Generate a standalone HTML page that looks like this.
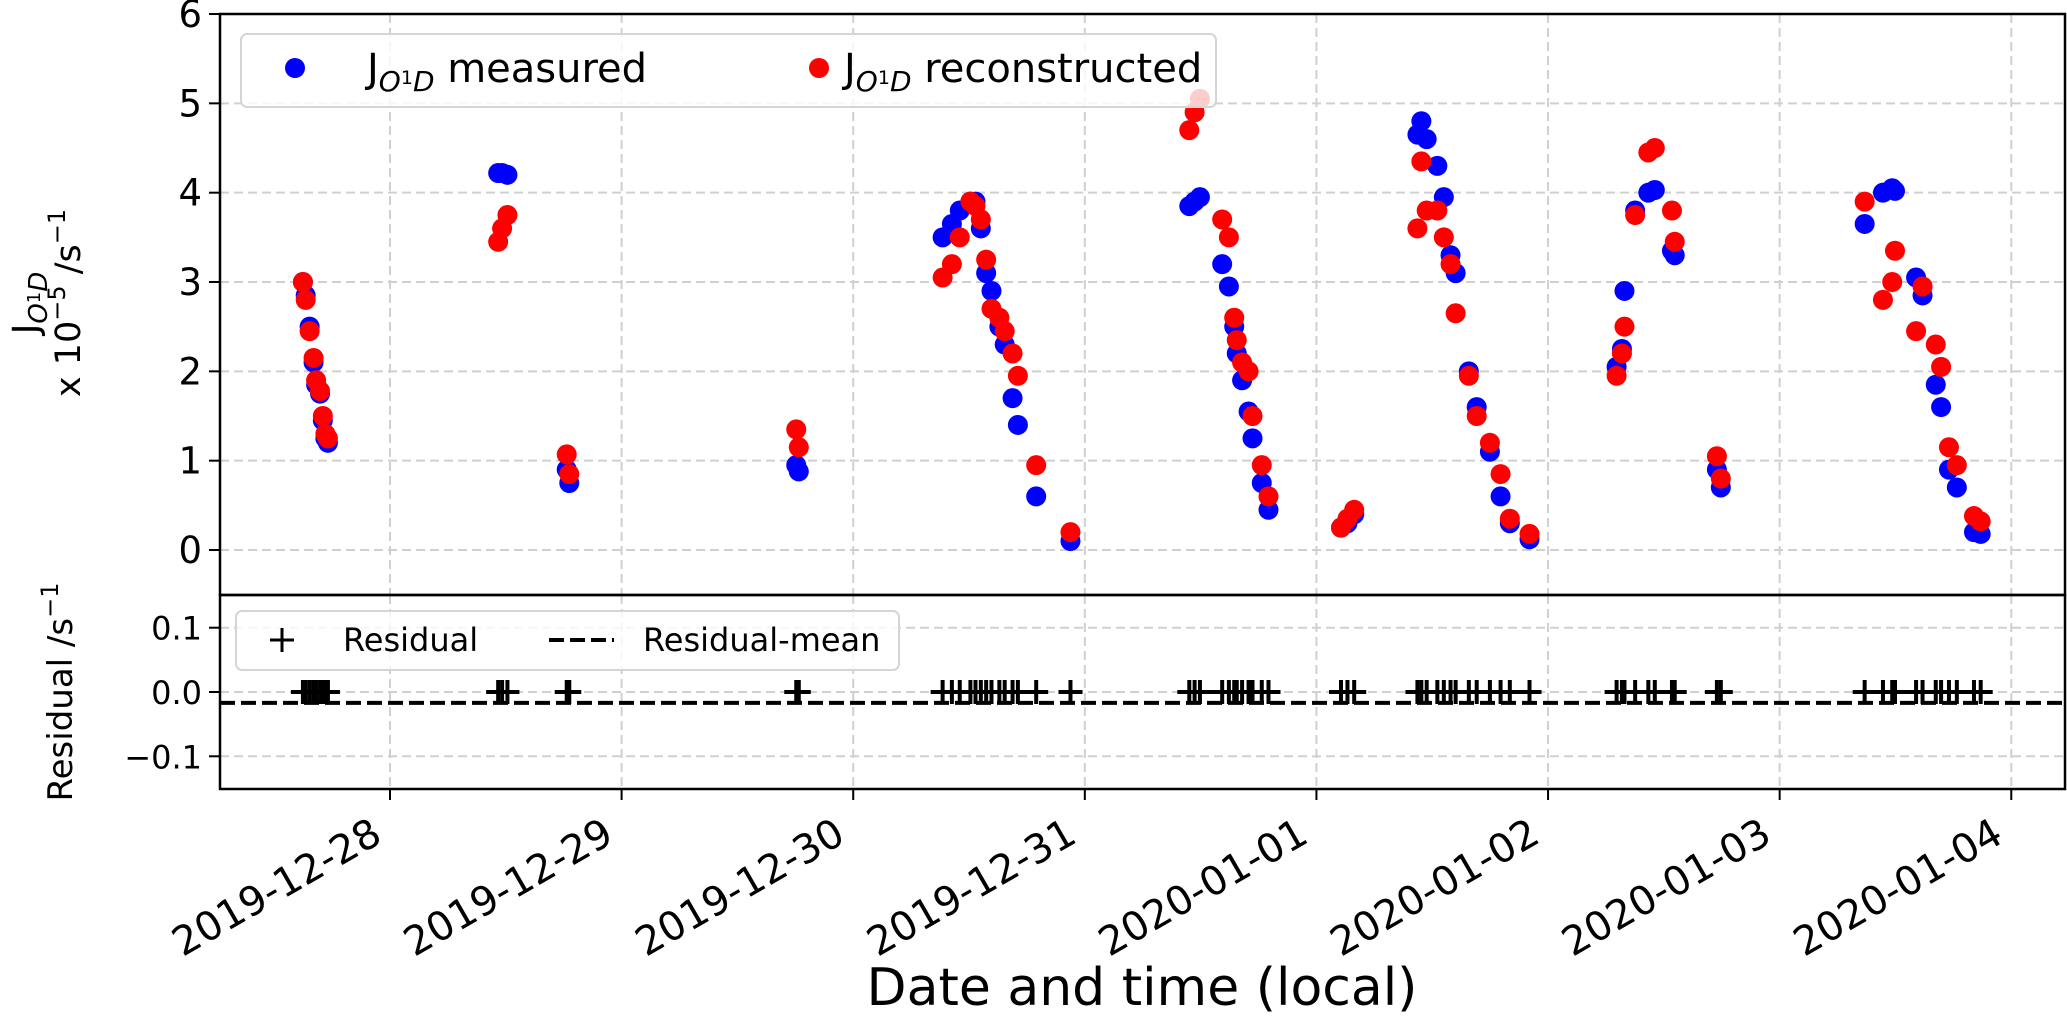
<!DOCTYPE html>
<html><head><meta charset="utf-8"><style>
html,body{margin:0;padding:0;background:#fff;}
svg{display:block;font-family:"DejaVu Sans","Liberation Sans",sans-serif;}
</style></head><body>
<svg id="chart" width="2067" height="1022" viewBox="0 0 2067 1022" xmlns="http://www.w3.org/2000/svg">
<g id="grid"></g>
<g id="marks"></g>
<g id="axes"></g>
<g>
  <rect x="241" y="34" width="975" height="73" rx="6" fill="#fff" fill-opacity="0.8" stroke="#d5d5d5" stroke-width="2"/>
  <circle cx="295" cy="68" r="10" fill="#0000ff"/>
  <text x="367" y="82" font-size="40">J<tspan font-size="28" font-style="italic" dy="9">O</tspan><tspan font-size="19" dy="-7">1</tspan><tspan font-size="28" font-style="italic" dy="7">D</tspan><tspan dy="-9"> measured</tspan></text>
  <circle cx="819" cy="68" r="10" fill="#ff0000"/>
  <text x="844" y="82" font-size="40">J<tspan font-size="28" font-style="italic" dy="9">O</tspan><tspan font-size="19" dy="-7">1</tspan><tspan font-size="28" font-style="italic" dy="7">D</tspan><tspan dy="-9"> reconstructed</tspan></text>
</g>
<g>
  <rect x="236" y="611" width="663" height="59" rx="6" fill="#fff" fill-opacity="0.8" stroke="#d5d5d5" stroke-width="2"/>
  <path d="M270 640 H294 M282 628 V652" stroke="#000" stroke-width="3"/>
  <text x="343" y="651" font-size="32">Residual</text>
  <line x1="549" y1="640" x2="614" y2="640" stroke="#000" stroke-width="4" stroke-dasharray="15,6"/>
  <text x="643" y="651" font-size="32">Residual-mean</text>
</g>
<text x="1142" y="1005" font-size="52" text-anchor="middle">Date and time (local)</text>
<g>
  <text transform="translate(38,303) rotate(-90)" font-size="36" text-anchor="middle">J<tspan font-size="26" font-style="italic" dy="9">O</tspan><tspan font-size="18" dy="-7">1</tspan><tspan font-size="26" font-style="italic" dy="7">D</tspan></text>
  <text transform="translate(80,303) rotate(-90)" font-size="35" text-anchor="middle">x 10<tspan font-size="24" dy="-15">−5</tspan><tspan dy="15"> /s</tspan><tspan font-size="24" dy="-15">−1</tspan></text>
</g>
<text transform="translate(72,692) rotate(-90)" font-size="34" text-anchor="middle">Residual /s<tspan font-size="24" dy="-14">−1</tspan></text>
</svg>
<script>
// time in days since 2019-12-28 00:00 local
const times = [-0.376,-0.364,-0.347,-0.330,-0.319,-0.302,-0.290,-0.279,-0.268,
 0.467,0.484,0.507, 0.763,0.774, 1.754,1.765,
 2.386,2.426,2.460,2.506,2.528,2.551,2.574,2.597,2.631,2.654,2.688,2.711,2.790,2.938,
 3.451,3.474,3.497,3.593,3.622,3.645,3.656,3.679,3.707,3.724,3.764,3.793,
 4.106,4.134,4.163,
 4.436,4.453,4.476,4.522,4.550,4.579,4.601,4.658,4.692,4.749,4.795,4.835,4.920,
 5.296,5.319,5.330,5.376,5.433,5.461,5.535,5.547,5.729,5.746,
 6.367,6.446,6.486,6.498,6.589,6.617,6.674,6.697,6.731,6.765,6.839,6.868];
const measured = [3.0,2.85,2.5,2.1,1.85,1.75,1.45,1.25,1.2,
 4.22,4.22,4.2, 0.9,0.75, 0.95,0.88,
 3.5,3.65,3.8,3.9,3.9,3.6,3.1,2.9,2.5,2.3,1.7,1.4,0.6,0.1,
 3.85,3.9,3.95,3.2,2.95,2.5,2.2,1.9,1.55,1.25,0.75,0.45,
 0.25,0.3,0.4,
 4.65,4.8,4.6,4.3,3.95,3.3,3.1,2.0,1.6,1.1,0.6,0.3,0.12,
 2.05,2.25,2.9,3.8,4.0,4.03,3.35,3.3,0.9,0.7,
 3.65,4.0,4.05,4.02,3.05,2.85,1.85,1.6,0.9,0.7,0.2,0.18];
const reconstructed = [3.0,2.8,2.45,2.15,1.9,1.78,1.5,1.3,1.25,
 3.45,3.6,3.75, 1.07,0.85, 1.35,1.15,
 3.05,3.2,3.5,3.9,3.85,3.7,3.25,2.7,2.6,2.45,2.2,1.95,0.95,0.2,
 4.7,4.9,5.05,3.7,3.5,2.6,2.35,2.1,2.0,1.5,0.95,0.6,
 0.25,0.35,0.45,
 3.6,4.35,3.8,3.8,3.5,3.2,2.65,1.95,1.5,1.2,0.85,0.35,0.18,
 1.95,2.2,2.5,3.75,4.45,4.5,3.8,3.45,1.05,0.8,
 3.9,2.8,3.0,3.35,2.45,2.95,2.3,2.05,1.15,0.95,0.38,0.32];
const residualMean = -0.017;
const xTickLabels = ["2019-12-28","2019-12-29","2019-12-30","2019-12-31","2020-01-01","2020-01-02","2020-01-03","2020-01-04"];
const xTickDays = [0,1,2,3,4,5,6,7];
const yTicks = [0,1,2,3,4,5,6];
const rTicks = [0.1,0.0,-0.1];
const rTickLabels = ["0.1","0.0","−0.1"];

const NS="http://www.w3.org/2000/svg";
const L=220,R=2065,T1=14,B1=595,T2=595,B2=789;
const X0=-0.734,X1=7.232;
const xs=d=>L+(d-X0)/(X1-X0)*(R-L);
const ys=v=>550-v*89.33;
const yr=v=>692-v*643;
function mk(tag,attrs,parent){const e=document.createElementNS(NS,tag);for(const k in attrs)e.setAttribute(k,attrs[k]);parent.appendChild(e);return e;}
const grid=document.getElementById('grid'),marks=document.getElementById('marks'),axes=document.getElementById('axes');
const gs={stroke:'#d0d0d0','stroke-width':2,'stroke-dasharray':'9,5'};

xTickDays.forEach((d,i)=>{
  const x=xs(d);
  mk('line',Object.assign({x1:x,x2:x,y1:T1,y2:B1},gs),grid);
  mk('line',Object.assign({x1:x,x2:x,y1:T2,y2:B2},gs),grid);
  mk('line',{x1:x,x2:x,y1:B2,y2:B2+11,stroke:'#000','stroke-width':2},axes);
  const t=mk('text',{x:0,y:0,'font-size':40,'text-anchor':'end',transform:`translate(${x-6},${B2+52}) rotate(-30)`},axes);
  
  
  t.textContent=xTickLabels[i];
});
yTicks.forEach(v=>{
  const y=ys(v);
  if(v<6) mk('line',Object.assign({x1:L,x2:R,y1:y,y2:y},gs),grid);
  mk('line',{x1:L-11,x2:L,y1:y,y2:y,stroke:'#000','stroke-width':2},axes);
  const t=mk('text',{x:L-18,y:y+13,'font-size':37,'text-anchor':'end'},axes);
  
  
  t.textContent=String(v);
});
rTicks.forEach((v,i)=>{
  const y=yr(v);
  mk('line',Object.assign({x1:L,x2:R,y1:y,y2:y},gs),grid);
  mk('line',{x1:L-11,x2:L,y1:y,y2:y,stroke:'#000','stroke-width':2},axes);
  const t=mk('text',{x:L-18,y:y+12,'font-size':32,'text-anchor':'end'},axes);
  
  
  t.textContent=rTickLabels[i];
});
times.forEach((d,i)=>{
  const c=mk('circle',{cx:xs(d),cy:ys(measured[i]),r:10,fill:'#0000ff'},marks);
  
  
});
times.forEach((d,i)=>{
  const c=mk('circle',{cx:xs(d),cy:ys(reconstructed[i]),r:10,fill:'#ff0000'},marks);
  
  
});
const ml=mk('line',{x1:L,x2:R,y1:yr(residualMean),y2:yr(residualMean),stroke:'#000','stroke-width':4,'stroke-dasharray':'15,6'},marks);


times.forEach((d,i)=>{
  const r=(measured[i]-reconstructed[i])*1e-5;
  const x=xs(d),y=yr(r);
  const p=mk('path',{d:`M${x-12} ${y} H${x+12} M${x} ${y-12} V${y+12}`,stroke:'#000','stroke-width':4},marks);
  
  
});
mk('rect',{x:L,y:T1,width:R-L,height:B1-T1,fill:'none',stroke:'#000','stroke-width':2.5},axes);
mk('rect',{x:L,y:T2,width:R-L,height:B2-T2,fill:'none',stroke:'#000','stroke-width':2.5},axes);
</script>
</body></html>
